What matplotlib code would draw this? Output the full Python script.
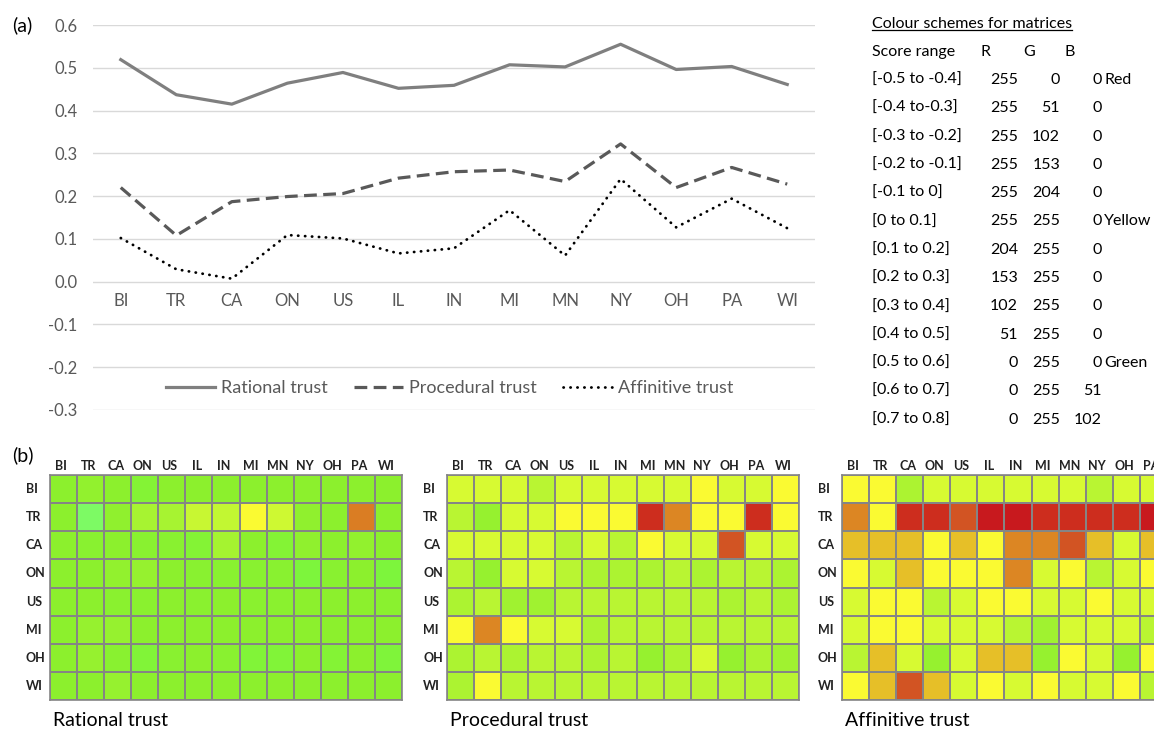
import matplotlib
matplotlib.use("Agg")
import matplotlib.pyplot as plt
import numpy as np
from matplotlib.colors import LinearSegmentedColormap, Normalize
from matplotlib.lines import Line2D
from matplotlib.transforms import blended_transform_factory
from matplotlib.ticker import FuncFormatter

plt.rcParams['font.family'] = ['Lato', 'DejaVu Sans']

# ---- data -------------------------------------------------------------
regions = ["BI", "TR", "CA", "ON", "US", "IL", "IN", "MI", "MN", "NY", "OH", "PA", "WI"]
matrix_rows = ["BI", "TR", "CA", "ON", "US", "MI", "OH", "WI"]

rational = [0.519, 0.437, 0.415, 0.464, 0.489, 0.452, 0.459, 0.507, 0.502, 0.555, 0.496, 0.503, 0.461]
procedural = [0.220, 0.108, 0.187, 0.199, 0.206, 0.242, 0.257, 0.261, 0.234, 0.322, 0.220, 0.267, 0.228]
affinitive = [0.102, 0.029, 0.007, 0.109, 0.101, 0.066, 0.078, 0.167, 0.061, 0.240, 0.127, 0.194, 0.125]

rational_matrix = [
    [0.45, 0.42, 0.45, 0.50, 0.45, 0.45, 0.45, 0.45, 0.45, 0.45, 0.45, 0.45, 0.45],
    [0.45, 0.65, 0.43, 0.32, 0.32, 0.20, 0.22, 0.05, 0.18, 0.43, 0.45, -0.17, 0.45],
    [0.45, 0.47, 0.45, 0.47, 0.47, 0.50, 0.33, 0.45, 0.50, 0.43, 0.45, 0.42, 0.45],
    [0.45, 0.45, 0.42, 0.40, 0.45, 0.47, 0.47, 0.47, 0.47, 0.55, 0.47, 0.45, 0.55],
    [0.45, 0.45, 0.46, 0.46, 0.45, 0.46, 0.45, 0.46, 0.46, 0.45, 0.45, 0.45, 0.46],
    [0.45, 0.40, 0.40, 0.45, 0.45, 0.45, 0.45, 0.45, 0.45, 0.45, 0.45, 0.45, 0.45],
    [0.45, 0.40, 0.47, 0.52, 0.47, 0.45, 0.47, 0.52, 0.52, 0.45, 0.50, 0.45, 0.53],
    [0.45, 0.45, 0.40, 0.45, 0.45, 0.45, 0.45, 0.45, 0.45, 0.45, 0.45, 0.45, 0.45],
]

procedural_matrix = [
    [0.15, 0.15, 0.15, 0.25, 0.15, 0.15, 0.15, 0.15, 0.15, 0.05, 0.15, 0.15, 0.05],
    [0.25, 0.40, 0.15, 0.15, 0.05, 0.05, 0.05, -0.35, -0.15, 0.05, 0.05, -0.35, 0.05],
    [0.15, 0.15, 0.15, 0.15, 0.25, 0.15, 0.25, 0.05, 0.15, 0.15, -0.25, 0.15, 0.15],
    [0.25, 0.40, 0.15, 0.15, 0.25, 0.30, 0.30, 0.30, 0.25, 0.30, 0.25, 0.25, 0.30],
    [0.30, 0.25, 0.35, 0.35, 0.25, 0.25, 0.25, 0.25, 0.25, 0.25, 0.30, 0.25, 0.30],
    [0.05, -0.15, 0.05, 0.15, 0.15, 0.30, 0.25, 0.25, 0.25, 0.25, 0.25, 0.25, 0.25],
    [0.30, 0.25, 0.30, 0.25, 0.25, 0.30, 0.25, 0.40, 0.30, 0.15, 0.40, 0.30, 0.35],
    [0.30, 0.05, 0.25, 0.25, 0.25, 0.25, 0.25, 0.25, 0.25, 0.25, 0.25, 0.25, 0.25],
]

affinitive_matrix = [
    [0.05, 0.05, 0.30, 0.15, 0.15, 0.15, 0.15, 0.15, 0.15, 0.25, 0.15, 0.15, 0.15],
    [-0.15, 0.05, -0.35, -0.35, -0.25, -0.45, -0.45, -0.35, -0.35, -0.35, -0.35, -0.45, -0.40],
    [-0.05, -0.05, -0.05, 0.05, -0.05, 0.05, -0.15, -0.15, -0.25, -0.05, 0.15, -0.05, 0.05],
    [0.05, 0.15, -0.05, 0.05, 0.05, 0.05, -0.15, 0.15, 0.05, 0.25, 0.15, 0.05, 0.10],
    [0.15, 0.05, 0.05, 0.25, 0.15, 0.05, 0.05, 0.15, 0.15, 0.05, 0.15, 0.15, 0.15],
    [0.15, 0.05, 0.05, 0.15, 0.15, 0.15, 0.25, 0.35, 0.15, 0.15, 0.15, 0.25, 0.20],
    [0.25, -0.05, 0.15, 0.40, 0.15, -0.05, -0.05, 0.40, 0.05, 0.15, 0.40, 0.05, 0.15],
    [0.05, -0.05, -0.25, -0.05, 0.15, 0.05, 0.15, 0.05, 0.15, 0.15, 0.05, 0.25, 0.10],
]

score_ranges = ["[-0.5 to -0.4]", "[-0.4 to-0.3]", "[-0.3 to -0.2]", "[-0.2 to -0.1]",
                "[-0.1 to 0]", "[0 to 0.1]", "[0.1 to 0.2]", "[0.2 to 0.3]", "[0.3 to 0.4]",
                "[0.4 to 0.5]", "[0.5 to 0.6]", "[0.6 to 0.7]", "[0.7 to 0.8]"]
red_vals = [255, 255, 255, 255, 255, 255, 204, 153, 102, 51, 0, 0, 0]
green_vals = [0, 51, 102, 153, 204, 255, 255, 255, 255, 255, 255, 255, 255]
blue_vals = [0, 0, 0, 0, 0, 0, 0, 0, 0, 0, 0, 51, 102]
colour_names = ["Red", "", "", "", "", "Yellow", "", "", "", "", "Green", "", ""]

# ---- figure -----------------------------------------------------------
W, H = 1154, 730
fig = plt.figure(figsize=(W / 100, H / 100), dpi=100)


def px_box(x0, y0, x1, y1):
    return [x0 / W, 1 - y1 / H, (x1 - x0) / W, (y1 - y0) / H]


# ---- (a) line chart ---------------------------------------------------
ax = fig.add_axes(px_box(93, 25, 815, 410))
x = np.arange(len(regions))
ax.plot(x, rational, color="#7f7f7f", lw=2.3, label="Rational trust")
ax.plot(x, procedural, color="#595959", lw=2.3, dashes=(4, 2), label="Procedural trust")
ax.plot(x, affinitive, color="black", lw=2.0, linestyle=(0, (0.1, 2.4)),
        dash_capstyle="round", label="Affinitive trust")

ax.set_xlim(-0.5, len(regions) - 0.5)
ax.set_ylim(-0.3, 0.6)
ax.set_yticks(np.round(np.arange(-0.3, 0.61, 0.1), 1))
ax.yaxis.set_major_formatter(FuncFormatter(lambda v, p: f"{round(v, 1) + 0.0:.1f}"))
ax.set_xticks(x)
ax.set_xticklabels(regions)
ax.grid(axis="y", color="#d9d9d9", lw=1)
ax.set_axisbelow(True)
for side in ["left", "right", "top"]:
    ax.spines[side].set_visible(False)
ax.spines["bottom"].set_position(("data", 0))
ax.spines["bottom"].set_color("none")
ax.tick_params(axis="both", length=0, labelsize=12, labelcolor="#595959")
ax.tick_params(axis="y", pad=11)
ax.tick_params(axis="x", pad=8)

ax.legend(loc="center", bbox_to_anchor=(0.494, 0.057), ncol=3, frameon=False,
          fontsize=13, handlelength=2.7, handletextpad=0.3, columnspacing=1.5,
          labelcolor="#595959")

fig.text(12 / W, 1 - 25 / H, "(a)", fontsize=14, va="center", ha="left")
fig.text(12 / W, 1 - 455 / H, "(b)", fontsize=14, va="center", ha="left")

# ---- colour table -----------------------------------------------------
tfs = 11.5
title = fig.text(872 / W, 1 - 24 / H, "Colour schemes for matrices", fontsize=tfs,
                 va="center", ha="left")
row_y0, row_step = 80, 28.3
fig.text(872 / W, 1 - 52 / H, "Score range", fontsize=tfs, va="center", ha="left")
fig.text(980 / W, 1 - 52 / H, "R", fontsize=tfs, va="center", ha="left")
fig.text(1023 / W, 1 - 52 / H, "G", fontsize=tfs, va="center", ha="left")
fig.text(1064 / W, 1 - 52 / H, "B", fontsize=tfs, va="center", ha="left")
for i, rng in enumerate(score_ranges):
    yy = 1 - (row_y0 + i * row_step) / H
    fig.text(872 / W, yy, rng, fontsize=tfs, va="center", ha="left")
    fig.text(1018 / W, yy, str(red_vals[i]), fontsize=tfs, va="center", ha="right")
    fig.text(1060 / W, yy, str(green_vals[i]), fontsize=tfs, va="center", ha="right")
    fig.text(1102 / W, yy, str(blue_vals[i]), fontsize=tfs, va="center", ha="right")
    if colour_names[i]:
        fig.text(1104 / W, yy, colour_names[i], fontsize=tfs, va="center", ha="left")

fig.canvas.draw()
bb = title.get_window_extent(fig.canvas.get_renderer())
uy = (bb.y0 + 1) / H
fig.add_artist(Line2D([bb.x0 / W, bb.x1 / W], [uy, uy], color="black", lw=0.9))

# ---- (b) matrices ---------------------------------------------------------
cmap_pos = [-0.45, -0.35, -0.25, -0.15, -0.05, 0.05, 0.15, 0.25, 0.35, 0.45, 0.55, 0.65]
cmap_cols = ["#c8191e", "#cd2d1e", "#d25523", "#dc8723", "#e6be28", "#fafa32",
             "#d7fa32", "#b9f532", "#a0f230", "#8cf02d", "#7df53c", "#7dfa64"]
lo, hi = cmap_pos[0], cmap_pos[-1]
trust_cmap = LinearSegmentedColormap.from_list(
    "trust", [((p - lo) / (hi - lo), c) for p, c in zip(cmap_pos, cmap_cols)])
trust_norm = Normalize(vmin=lo, vmax=hi)


def draw_matrix(left_px, data, name):
    right_px = left_px + 352
    mx = fig.add_axes(px_box(left_px, 475, right_px, 700))
    mx.pcolormesh(np.array(data), cmap=trust_cmap, norm=trust_norm,
                  edgecolors="#858585", linewidth=1.2)
    mx.set_xlim(0, len(regions))
    mx.set_ylim(len(matrix_rows), 0)
    mx.set_xticks([])
    mx.set_yticks([])
    for s in mx.spines.values():
        s.set_color("#858585")
        s.set_linewidth(1.2)
    top = blended_transform_factory(mx.transData, mx.transAxes)
    for j, lab in enumerate(regions):
        mx.text(j + 0.42, 1 + 9 / 225, lab, transform=top, fontsize=9, fontweight="bold",
                ha="center", va="center", clip_on=False, color="#222222")
    side = blended_transform_factory(mx.transAxes, mx.transData)
    for i, lab in enumerate(matrix_rows):
        mx.text(-24 / 352, i + 0.5, lab, transform=side, fontsize=9, fontweight="bold",
                ha="left", va="center", clip_on=False, color="#222222")
    fig.text((left_px + 3) / W, 1 - 720 / H, name, fontsize=14, ha="left", va="center")


draw_matrix(50, rational_matrix, "Rational trust")
draw_matrix(447, procedural_matrix, "Procedural trust")
draw_matrix(842, affinitive_matrix, "Affinitive trust")

fig.savefig("out.png", dpi=100)
